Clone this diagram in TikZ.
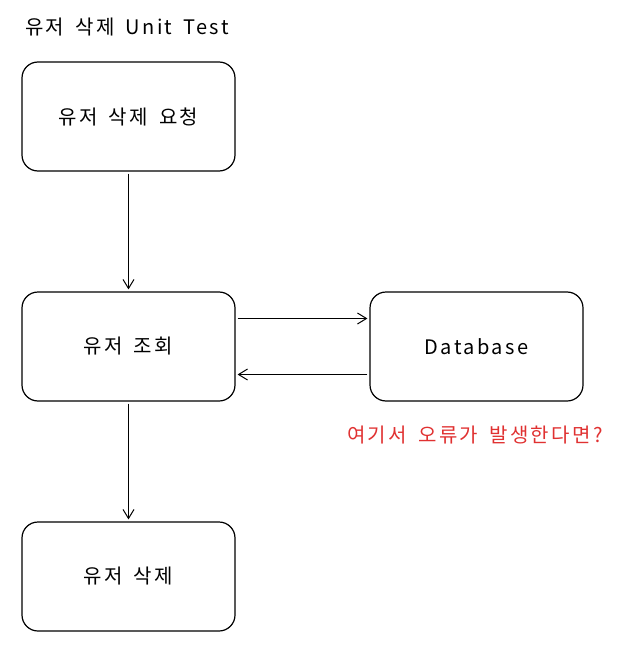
\documentclass[tikz,border=0pt]{standalone}
\usepackage{fontspec}
\setmainfont[LetterSpace=12,WordSpace=1.6]{Noto Sans CJK KR}
\usetikzlibrary{arrows.meta}
\definecolor{errred}{HTML}{E03131}
\tikzset{
  stepbox/.style={draw, line width=1.2pt, rounded corners=16pt, minimum width=213pt, minimum height=109pt, font=\fontsize{20}{24}\selectfont},
  flow/.style={line width=1pt, -{Straight Barb[length=9pt,width=11pt]}, shorten >=2pt, shorten <=2pt}
}
\begin{document}
\begin{tikzpicture}[x=1pt, y=-1pt]
\useasboundingbox (0,0) rectangle (630,650);
\node[anchor=west, inner sep=0pt, font=\fontsize{20}{24}\selectfont] (title) at (25,27) {유저 삭제 Unit Test};
\node[stepbox] (req) at (128.5,116.5) {유저 삭제 요청};
\node[stepbox] (find) at (128.5,346.5) {유저 조회};
\node[stepbox] (del) at (128.5,576.5) {유저 삭제};
\node[stepbox] (db) at (476.5,346.5) {Database};
\node[anchor=west, inner sep=0pt, text=errred, font=\fontsize{20}{24}\selectfont] (err) at (347,435) {여기서 오류가 발생한다면?};
\draw[flow] (req) -- (find);
\draw[flow] (find) -- (del);
\draw[flow] ([yshift=28pt]find.east) -- ([yshift=28pt]db.west);
\draw[flow] ([yshift=-28pt]db.west) -- ([yshift=-28pt]find.east);
\end{tikzpicture}
\end{document}
